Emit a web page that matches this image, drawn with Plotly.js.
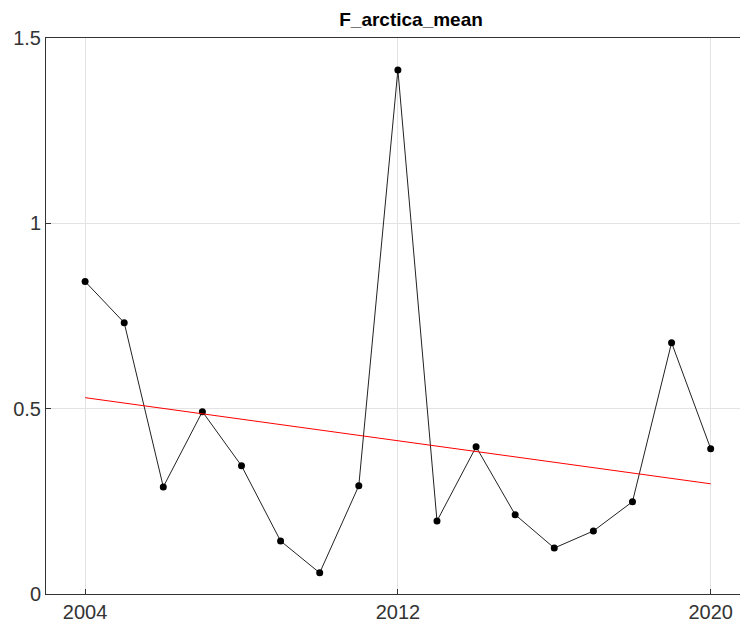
<!DOCTYPE html>
<html>
<head>
<meta charset="utf-8">
<script src="https://cdn.plot.ly/plotly-3.0.1.min.js"></script>
<style>html,body{margin:0;padding:0;background:#fff;}</style>
</head>
<body>
<div id="chart" style="width:740px;height:631px;"></div>
<script>
const years = [2004,2005,2006,2007,2008,2009,2010,2011,2012,2013,2014,2015,2016,2017,2018,2019,2020];
const values = [0.843,0.732,0.289,0.492,0.346,0.143,0.057,0.292,1.414,0.197,0.397,0.214,0.124,0.170,0.249,0.678,0.392];
const xTicks = [2004,2012,2020];
const yTicks = [0,0.5,1,1.5];
const yTickText = ['0','0.5','1','1.5'];

// least-squares trend from the data
const n = years.length;
const mx = years.reduce((a,b)=>a+b,0)/n;
const my = values.reduce((a,b)=>a+b,0)/n;
let sxy=0, sxx=0;
for(let i=0;i<n;i++){sxy+=(years[i]-mx)*(values[i]-my);sxx+=(years[i]-mx)**2;}
const slope = sxy/sxx, icpt = my - slope*mx;
const trendX = [years[0], years[n-1]];
const trendY = trendX.map(x=>icpt+slope*x);

const traces = [
  {x: years, y: values, type:'scatter', mode:'lines+markers',
   line:{color:'#222', width:1}, marker:{color:'#000', size:7}, hoverinfo:'skip'},
  {x: trendX, y: trendY, type:'scatter', mode:'lines',
   line:{color:'#ff0000', width:1}, hoverinfo:'skip'}
];
const axisFont = {family:'Liberation Sans, Arial, sans-serif', size:20, color:'#333'};
const layout = {
  width:740, height:631,
  margin:{l:46, r:0, t:38, b:37, pad:0},
  showlegend:false,
  paper_bgcolor:'#fff', plot_bgcolor:'#fff',
  title:{text:'<b>F_arctica_mean</b>', x:0.526, xref:'paper', xanchor:'center', y:0.970, yanchor:'middle',
         font:{family:'Liberation Sans, Arial, sans-serif', size:19, color:'#000'}},
  xaxis:{range:[2003,2020.75], tickvals:xTicks, ticktext:xTicks.map(String), tickfont:axisFont,
         showgrid:true, gridcolor:'#e3e3e3', gridwidth:1, zeroline:false,
         showline:true, linecolor:'#333', linewidth:1, mirror:true,
         ticks:'inside', ticklen:5, tickcolor:'#333', tickwidth:1},
  yaxis:{range:[0,1.5], tickvals:yTicks, ticktext:yTickText, tickfont:axisFont,
         showgrid:true, gridcolor:'#e3e3e3', gridwidth:1, zeroline:false,
         showline:true, linecolor:'#333', linewidth:1, mirror:false,
         ticks:'inside', ticklen:5, tickcolor:'#333', tickwidth:1}
};
Plotly.newPlot('chart', traces, layout, {displayModeBar:false, staticPlot:true});
</script>
</body>
</html>
